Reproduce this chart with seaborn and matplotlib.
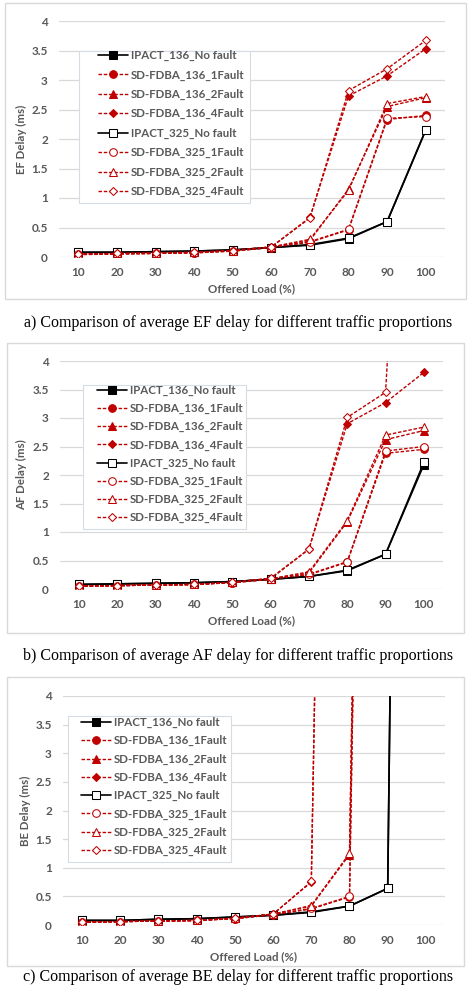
import numpy as np
import matplotlib
matplotlib.use("Agg")
import matplotlib.pyplot as plt
import seaborn as sns
from matplotlib.patches import Rectangle

# dados (atraso médio em ms)
load = [10, 20, 30, 40, 50, 60, 70, 80, 90, 100]
series_names = ["IPACT_136_No fault", "SD-FDBA_136_1Fault", "SD-FDBA_136_2Fault", "SD-FDBA_136_4Fault",
                "IPACT_325_No fault", "SD-FDBA_325_1Fault", "SD-FDBA_325_2Fault", "SD-FDBA_325_4Fault"]

# EF delay
ef_ipact_136 = [0.08, 0.08, 0.09, 0.10, 0.12, 0.16, 0.20, 0.31, 0.60, 2.15]
ef_sd_136_1 = [0.04, 0.05, 0.06, 0.07, 0.10, 0.16, 0.25, 0.46, 2.33, 2.40]
ef_sd_136_2 = [0.05, 0.06, 0.07, 0.08, 0.11, 0.17, 0.28, 1.15, 2.55, 2.70]
ef_sd_136_4 = [0.05, 0.06, 0.07, 0.08, 0.11, 0.17, 0.67, 2.73, 3.07, 3.53]
ef_ipact_325 = [0.08, 0.08, 0.09, 0.10, 0.12, 0.16, 0.21, 0.32, 0.60, 2.15]
ef_sd_325_1 = [0.05, 0.05, 0.06, 0.07, 0.10, 0.16, 0.26, 0.47, 2.35, 2.38]
ef_sd_325_2 = [0.05, 0.06, 0.07, 0.08, 0.11, 0.17, 0.30, 1.13, 2.60, 2.72]
ef_sd_325_4 = [0.05, 0.06, 0.07, 0.08, 0.11, 0.17, 0.66, 2.82, 3.19, 3.67]

# AF delay
af_ipact_136 = [0.08, 0.09, 0.10, 0.11, 0.13, 0.17, 0.22, 0.32, 0.61, 2.18]
af_sd_136_1 = [0.05, 0.06, 0.07, 0.08, 0.11, 0.17, 0.25, 0.47, 2.38, 2.45]
af_sd_136_2 = [0.05, 0.06, 0.07, 0.08, 0.12, 0.18, 0.28, 1.18, 2.62, 2.78]
af_sd_136_4 = [0.05, 0.06, 0.07, 0.08, 0.12, 0.18, 0.70, 2.90, 3.27, 3.80]
af_ipact_325 = [0.08, 0.09, 0.10, 0.11, 0.13, 0.17, 0.22, 0.33, 0.61, 2.22]
af_sd_325_1 = [0.05, 0.06, 0.07, 0.08, 0.11, 0.17, 0.26, 0.48, 2.42, 2.50]
af_sd_325_2 = [0.05, 0.06, 0.07, 0.08, 0.12, 0.18, 0.30, 1.20, 2.70, 2.84]
af_sd_325_4 = [0.05, 0.06, 0.07, 0.08, 0.12, 0.19, 0.70, 3.01, 3.45, 15.0]

# BE delay (valores que saem do gráfico -> grandes)
be_ipact_136 = [0.08, 0.08, 0.10, 0.11, 0.14, 0.17, 0.22, 0.33, 0.64, 56.0]
be_sd_136_1 = [0.05, 0.06, 0.07, 0.08, 0.11, 0.18, 0.28, 0.49, 40.0, np.nan]
be_sd_136_2 = [0.05, 0.06, 0.07, 0.08, 0.12, 0.19, 0.33, 1.23, 40.0, np.nan]
be_sd_136_4 = [0.05, 0.06, 0.07, 0.08, 0.12, 0.19, 0.75, 38.0, np.nan, np.nan]
be_ipact_325 = [0.08, 0.08, 0.10, 0.11, 0.14, 0.17, 0.23, 0.33, 0.64, 56.0]
be_sd_325_1 = [0.05, 0.06, 0.07, 0.08, 0.11, 0.18, 0.29, 0.50, 41.0, np.nan]
be_sd_325_2 = [0.05, 0.06, 0.07, 0.08, 0.12, 0.19, 0.34, 1.25, 41.0, np.nan]
be_sd_325_4 = [0.05, 0.06, 0.07, 0.08, 0.12, 0.19, 0.76, 38.0, np.nan, np.nan]

panels = [
    ("EF Delay (ms)", "a) Comparison of average EF delay for different traffic proportions",
     [ef_ipact_136, ef_sd_136_1, ef_sd_136_2, ef_sd_136_4, ef_ipact_325, ef_sd_325_1, ef_sd_325_2, ef_sd_325_4]),
    ("AF Delay (ms)", "b) Comparison of average AF delay for different traffic proportions",
     [af_ipact_136, af_sd_136_1, af_sd_136_2, af_sd_136_4, af_ipact_325, af_sd_325_1, af_sd_325_2, af_sd_325_4]),
    ("BE Delay (ms)", "c) Comparison of average BE delay for different traffic proportions",
     [be_ipact_136, be_sd_136_1, be_sd_136_2, be_sd_136_4, be_ipact_325, be_sd_325_1, be_sd_325_2, be_sd_325_4]),
]

RED = "#C00000"
GRAY = "#595959"
styles = [
    dict(color="black", marker="s", mfc="black", ls="-"),
    dict(color=RED, marker="o", mfc=RED, ls="--"),
    dict(color=RED, marker="^", mfc=RED, ls="--"),
    dict(color=RED, marker="D", mfc=RED, ls="--"),
    dict(color="black", marker="s", mfc="white", ls="-"),
    dict(color=RED, marker="o", mfc="white", ls="--"),
    dict(color=RED, marker="^", mfc="white", ls="--"),
    dict(color=RED, marker="D", mfc="white", ls="--"),
]

sns.set_style("white")
plt.rcParams["font.family"] = ["Lato", "DejaVu Sans"]

W, H = 477, 986
fig = plt.figure(figsize=(W / 100, H / 100), dpi=100)

# posições em pixels
# (ax_left, ax_right, y0_px, y4_px, moldura, caixa da legenda, início da legenda, labelspacing, legenda)
layout = [
    (59, 445, 257, 21, (5, 3, 466, 299), (79, 51, 250, 203), (98, 50), 0.72, 323),
    (60, 443, 589, 361, (7, 343, 464, 633), (83, 385, 246, 529), (97, 385), 0.61, 656),
    (63, 445, 925, 696, (7, 677, 464, 966), (68, 716, 231, 862), (81, 717), 0.62, 977),
]

for (ylabel, caption, data), (xl, xr, yb, yt, frame, lbox, lpos, lsp, cap_y) in zip(panels, layout):
    fx0, fy0, fx1, fy1 = frame
    fig.patches.append(Rectangle((fx0 / W, 1 - fy1 / H), (fx1 - fx0) / W, (fy1 - fy0) / H,
                                 transform=fig.transFigure, fill=False, edgecolor="#D9D9D9", lw=1.0))
    ax = fig.add_axes([xl / W, 1 - yb / H, (xr - xl) / W, (yb - yt) / H])
    ax.set_facecolor("none")
    for name, vals, st in zip(series_names, data, styles):
        kw = dict(color=st["color"], marker=st["marker"], markerfacecolor=st["mfc"],
                  markeredgecolor=st["color"], markersize=5.5,
                  linewidth=1.2 if st["ls"] == "-" else 1.0, label=name, estimator=None)
        if st["ls"] == "--":
            kw["dashes"] = (2.5, 1.3)
        if st["marker"] == "D":
            kw["markersize"] = 4.5
        sns.lineplot(x=load, y=vals, ax=ax, **kw)
    ax.set_xlim(5, 105)
    ax.set_ylim(0, 4)
    ax.set_xticks(load)
    ax.set_yticks([0, 0.5, 1, 1.5, 2, 2.5, 3, 3.5, 4])
    ax.set_yticklabels(["0", "0.5", "1", "1.5", "2", "2.5", "3", "3.5", "4"])
    ax.grid(axis="y", color="#D9D9D9", lw=0.9)
    ax.set_axisbelow(True)
    for s in ax.spines.values():
        s.set_visible(False)
    ax.tick_params(axis="both", length=0, labelsize=8.5, labelcolor=GRAY)
    ax.tick_params(axis="x", pad=7)
    ax.tick_params(axis="y", pad=8)
    for t in ax.get_xticklabels() + ax.get_yticklabels():
        t.set_fontweight("bold")
    ax.set_xlabel("Offered Load (%)", fontsize=8.3, color=GRAY, fontweight="bold", labelpad=4)
    ax.set_ylabel(ylabel, fontsize=8.3, color=GRAY, fontweight="bold", labelpad=3.5)

    # caixa branca da legenda (como no Excel)
    bx0, by0, bx1, by1 = lbox
    ax.add_patch(Rectangle((bx0 / W, 1 - by1 / H), (bx1 - bx0) / W, (by1 - by0) / H,
                           transform=fig.transFigure, facecolor="white", edgecolor="#D6DCE5",
                           lw=0.8, zorder=4, clip_on=False))
    leg = ax.legend(loc="upper left", bbox_to_anchor=(lpos[0] / W, 1 - lpos[1] / H),
                    bbox_transform=fig.transFigure, frameon=False,
                    fontsize=8.3, handlelength=2.6, handletextpad=0.25, labelspacing=lsp,
                    borderpad=0, borderaxespad=0)
    leg.set_zorder(5)
    for t in leg.get_texts():
        t.set_color(GRAY)
        t.set_fontweight("bold")

    fig.text(0.5, 1 - cap_y / H, caption, ha="center", va="center",
             fontsize=11.5, family="Liberation Serif", color="black")

fig.savefig("out.png", dpi=100)
